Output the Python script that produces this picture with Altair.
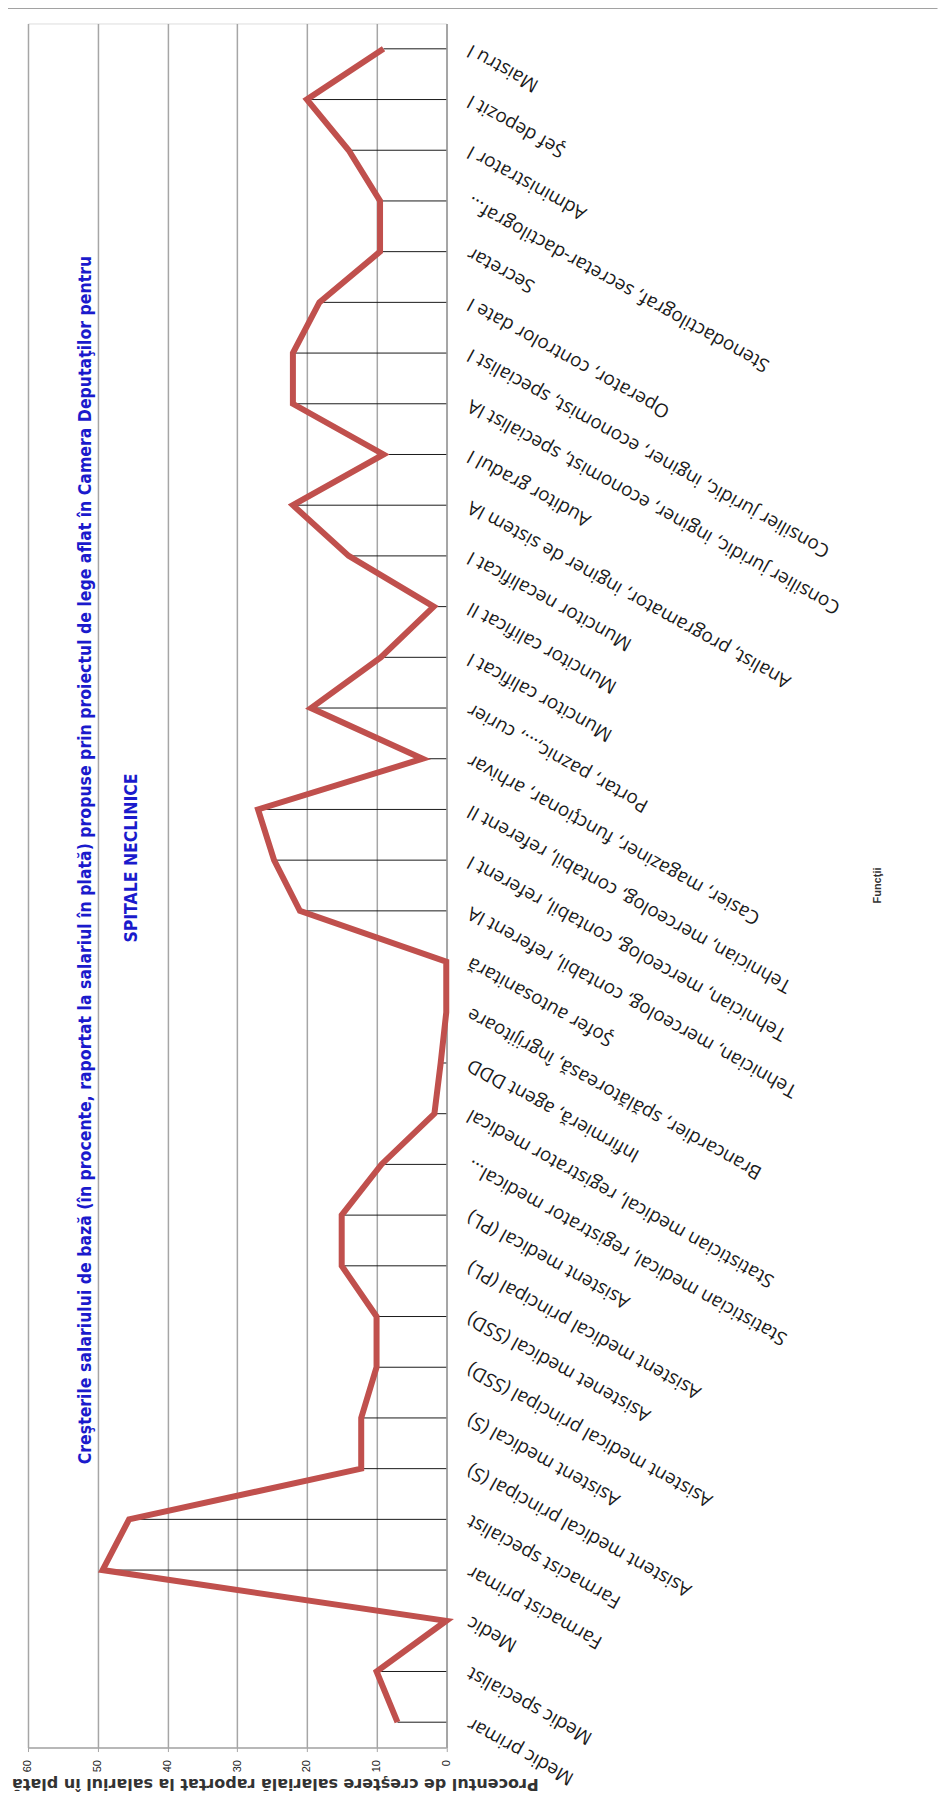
import altair as alt
import pandas as pd

# Categories, bottom (first) to top (last)
categories = [
    "Medic primar",
    "Medic specialist",
    "Medic",
    "Farmacist primar",
    "Farmacist specialist",
    "Asistent medical principal (S)",
    "Asistent medical (S)",
    "Asistent medical principal (SSD)",
    "Asistenet medical (SSD)",
    "Asistent medical principal (PL)",
    "Asistent medical (PL)",
    "Statistician medical, registrator medical…",
    "Statistician medical, registrator medical",
    "Infirmieră, agent DDD",
    "Brancardier, spălătoreasă, îngrijitoare",
    "Şofer autosanitară",
    "Tehnician, merceolog, contabil, referent IA",
    "Tehnician, merceolog, contabil, referent I",
    "Tehnician, merceolog, contabil, referent II",
    "Casier, magaziner, funcţionar, arhivar",
    "Portar, paznic,..., curier",
    "Muncitor calificat I",
    "Muncitor calificat II",
    "Muncitor necalificat I",
    "Analist, programator, inginer de sistem IA",
    "Auditor gradul I",
    "Consilier juridic, inginer, economist, specialist IA",
    "Consilier juridic, inginer, economist, specialist I",
    "Operator, controlor date I",
    "Secretar",
    "Stenodactilograf, secretar-dactilograf…",
    "Administrator I",
    "Şef depozit I",
    "Maistru I",
]

values = [7, 10, 0, 49.3, 45.5, 12.2, 12.2, 10, 10, 15, 15, 9.3, 1.7, 0.8, 0, 0,
          21, 24.7, 27, 3.4, 19.4, 9.4, 1.8, 14, 22, 9, 22, 22, 18.2, 9.5, 9.5, 14, 20, 9]

x_ticks = [0, 10, 20, 30, 40, 50, 60]

title_line1 = ("Creşterile salariului de bază (în procente, raportat la salariul în plată) "
               "propuse prin proiectul de lege aflat în Camera Deputaţilor pentru")
title_line2 = "SPITALE  NECLINICE"
x_title = "Procentul de creştere salarială raportat la salariul în plată"
y_title = "Funcţii"

df = pd.DataFrame({"cat": categories, "val": values, "idx": list(range(len(categories)))})

W = 418.5
H = 1725
GRID = "#A6A6A6"
TITLE_FONT = "DejaVu Sans Condensed, Liberation Sans Narrow, Liberation Sans, sans-serif"

x_enc = alt.X(
    "val:Q",
    scale=alt.Scale(domain=[0, 60], reverse=True, nice=False),
    axis=alt.Axis(
        values=x_ticks,
        grid=True, gridColor=GRID, gridWidth=1.5,
        domainColor=GRID, domainWidth=1.5,
        tickColor=GRID, tickSize=4,
        labelAngle=270, labelFontSize=11, labelColor="#222222",
        labelFont="Liberation Sans", labelPadding=8,
        title=x_title, titleAngle=180, titleFontSize=16, titleFontWeight="bold",
        titleFont="DejaVu Sans", titleColor="#333333",
        titleX=247, titleY=36, titleAlign="center", titleBaseline="middle",
    ),
)

y_enc = alt.Y(
    "cat:N",
    sort=categories[::-1],
    scale=alt.Scale(type="point", padding=0.5),
    axis=alt.Axis(
        orient="right",
        grid=False, ticks=False,
        domainColor=GRID, domainWidth=1.5,
        labelAngle=209, labelAlign="right", labelBaseline="middle",
        labelPadding=22, labelFontSize=19, labelFont="Open Sans",
        labelColor="#1a1a1a", labelLimit=800, labelOverlap=False, labelBound=False,
        title=y_title, titleAngle=270, titleFontSize=11, titleFontWeight="bold",
        titleFont="Liberation Sans", titleColor="#333333",
        titleX=431.5, titleY=862, titleAlign="center", titleBaseline="middle",
    ),
)

base = alt.Chart(df)

drops = base.mark_rule(color="#1a1a1a", strokeWidth=1).encode(
    x=x_enc, x2=alt.datum(0), y=y_enc
)

line = base.mark_line(color="#C0504D", strokeWidth=6, strokeJoin="miter").encode(
    x=x_enc, y=y_enc, order=alt.Order("idx:Q")
)

t1 = alt.Chart(pd.DataFrame({"t": [title_line1]})).mark_text(
    angle=270, align="center", baseline="middle", font=TITLE_FONT,
    fontSize=17.5, fontWeight="bold", color="#1A1ACC"
).encode(text="t:N", x=alt.value(58), y=alt.value(837))

t2 = alt.Chart(pd.DataFrame({"t": [title_line2]})).mark_text(
    angle=270, align="center", baseline="middle", font=TITLE_FONT,
    fontSize=17.5, fontWeight="bold", color="#1A1ACC"
).encode(text="t:N", x=alt.value(104), y=alt.value(835))

frame_df = pd.DataFrame({"a": [0]})
frame_left = alt.Chart(frame_df).mark_rule(color="#A0A0A0", strokeWidth=1).encode(
    x=alt.value(-21), y=alt.value(-15), y2=alt.value(1790)
)
frame_top = alt.Chart(frame_df).mark_rule(color="#A0A0A0", strokeWidth=1).encode(
    x=alt.value(-21), x2=alt.value(910), y=alt.value(-15)
)

chart = alt.layer(drops, line, t1, t2, frame_left, frame_top).properties(
    width=W, height=H,
    padding={"left": 20, "top": 15, "right": 497, "bottom": 45},
    autosize=alt.AutoSizeParams(type="none"),
).configure_view(stroke=None).configure(background="white")

chart.save("out.html", embed_options={"renderer": "svg", "actions": False})
